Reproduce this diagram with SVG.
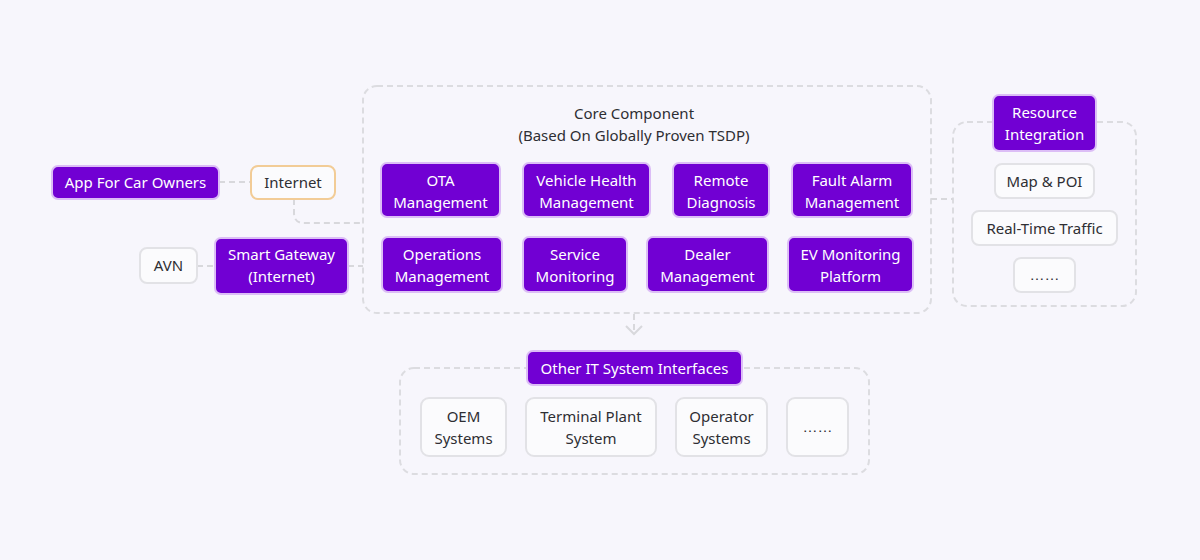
<svg xmlns="http://www.w3.org/2000/svg" width="1200" height="560" viewBox="0 0 1200 560">
<defs>
<style>
text{font-family:"Noto Sans","Open Sans","Liberation Sans",sans-serif;font-size:15px;text-anchor:middle;}
.p rect{fill:#7100d3;stroke:#dcbdf6;stroke-width:2;}
.p text{fill:#ffffff;}
.w rect{fill:#fbfbfd;stroke:#e2e2e6;stroke-width:2;}
.w text{fill:#2e2e33;}
.o rect{fill:#fbfbfd;stroke:#f2cc96;stroke-width:2;}
.o text{fill:#2e2e33;}
.grp{fill:none;stroke:#dcdce0;stroke-width:2;stroke-dasharray:6 4;}
.ln{fill:none;stroke:#d8d8dc;stroke-width:2;stroke-dasharray:6 4;}
.t{fill:#2e2e33;}
.el{font-family:"Liberation Sans",sans-serif;font-size:15px;}
</style>
</defs>
<rect width="1200" height="560" fill="#f7f6fc"/>

<g id="groups">
<rect class="grp" x="363" y="86" width="568" height="227" rx="14"/>
<rect class="grp" x="953" y="122" width="183" height="184" rx="14"/>
<rect class="grp" x="400" y="368" width="469" height="106" rx="14"/>
</g>

<g id="connectors">
<path class="ln" d="M219 182 H251"/>
<path class="ln" d="M294 199 V213 Q294 223 304 223 H363"/>
<path class="ln" d="M197 266 H215"/>
<path class="ln" d="M348 266 H363"/>
<path class="ln" d="M931 199 H953"/>
<path class="ln" d="M634 314 V333"/>
<path d="M626 326 L634 334 L642 326" fill="none" stroke="#d8d8dc" stroke-width="2"/>
</g>

<g id="core-title">
<text class="t" x="634" y="119">Core Component</text>
<text class="t" x="634" y="141">(Based On Globally Proven TSDP)</text>
</g>

<g id="app" class="p"><rect x="52" y="166" width="167" height="33" rx="6"/><text x="135.5" y="188">App For Car Owners</text></g>
<g id="internet" class="o"><rect x="251" y="166" width="84" height="33" rx="7"/><text x="293" y="188">Internet</text></g>
<g id="avn" class="w"><rect x="140" y="248" width="57" height="35" rx="7"/><text x="168.5" y="271">AVN</text></g>
<g id="gateway" class="p"><rect x="215" y="238" width="133" height="56" rx="6"/><text x="281.5" y="260">Smart Gateway</text><text x="281.5" y="282">(Internet)</text></g>

<g id="ota" class="p"><rect x="381" y="163" width="119" height="54" rx="6"/><text x="440.5" y="186">OTA</text><text x="440.5" y="208">Management</text></g>
<g id="vhm" class="p"><rect x="523" y="163" width="127" height="54" rx="6"/><text x="586.5" y="186">Vehicle Health</text><text x="586.5" y="208">Management</text></g>
<g id="remote" class="p"><rect x="673" y="163" width="96" height="54" rx="6"/><text x="721" y="186">Remote</text><text x="721" y="208">Diagnosis</text></g>
<g id="fault" class="p"><rect x="792" y="163" width="120" height="54" rx="6"/><text x="852" y="186">Fault Alarm</text><text x="852" y="208">Management</text></g>

<g id="ops" class="p"><rect x="382" y="237" width="120" height="55" rx="6"/><text x="442" y="260">Operations</text><text x="442" y="282">Management</text></g>
<g id="service" class="p"><rect x="523" y="237" width="104" height="55" rx="6"/><text x="575" y="260">Service</text><text x="575" y="282">Monitoring</text></g>
<g id="dealer" class="p"><rect x="647" y="237" width="121" height="55" rx="6"/><text x="707.5" y="260">Dealer</text><text x="707.5" y="282">Management</text></g>
<g id="ev" class="p"><rect x="788" y="237" width="125" height="55" rx="6"/><text x="850.5" y="260">EV Monitoring</text><text x="850.5" y="282">Platform</text></g>

<g id="resource" class="p"><rect x="993" y="95" width="103" height="56" rx="6"/><text x="1044.5" y="118">Resource</text><text x="1044.5" y="140">Integration</text></g>
<g id="map" class="w"><rect x="995" y="164" width="99" height="34" rx="7"/><text x="1044.5" y="187">Map &amp; POI</text></g>
<g id="traffic" class="w"><rect x="972" y="211" width="145" height="34" rx="7"/><text x="1044.5" y="234">Real-Time Traffic</text></g>
<g id="res-more" class="w"><rect x="1014" y="258" width="61" height="34" rx="7"/><text class="el" x="1044.5" y="280">……</text></g>

<g id="other" class="p"><rect x="527" y="351" width="215" height="34" rx="6"/><text x="634.5" y="374">Other IT System Interfaces</text></g>
<g id="oem" class="w"><rect x="421" y="398" width="85" height="58" rx="8"/><text x="463.5" y="422">OEM</text><text x="463.5" y="444">Systems</text></g>
<g id="plant" class="w"><rect x="526" y="398" width="130" height="58" rx="8"/><text x="591" y="422">Terminal Plant</text><text x="591" y="444">System</text></g>
<g id="operator" class="w"><rect x="676" y="398" width="91" height="58" rx="8"/><text x="721.5" y="422">Operator</text><text x="721.5" y="444">Systems</text></g>
<g id="it-more" class="w"><rect x="787" y="398" width="61" height="58" rx="8"/><text class="el" x="817.5" y="432">……</text></g>
</svg>
